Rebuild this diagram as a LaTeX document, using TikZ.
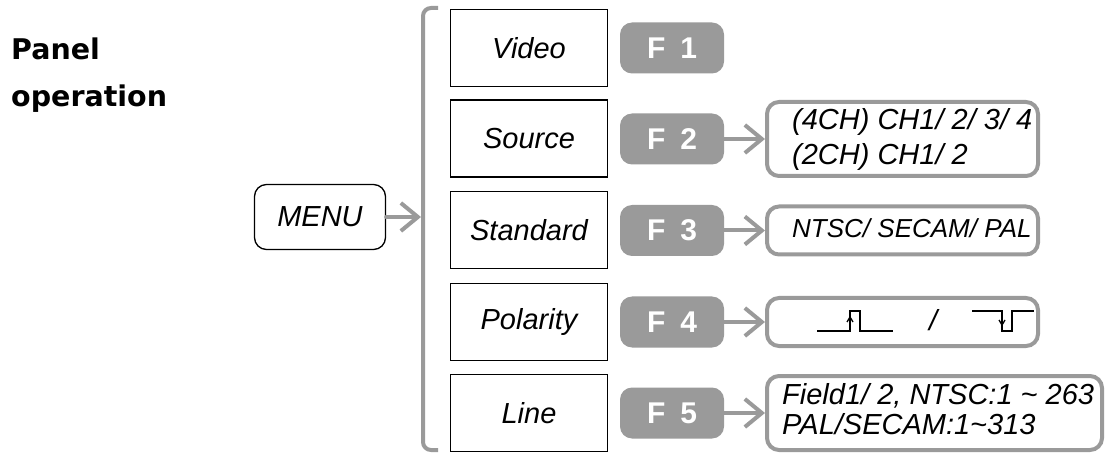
\documentclass[tikz,border=0pt]{standalone}
\usepackage{fontspec}
\setmainfont{Liberation Sans}
\newfontfamily\djv{DejaVu Sans}
\usetikzlibrary{arrows.meta}
\definecolor{gr}{HTML}{9A9A9A}
\begin{document}
\begin{tikzpicture}[x=1pt,y=-1pt,
  every node/.style={inner sep=0pt, font=\fontsize{29}{32}\selectfont\itshape},
  title/.style={anchor=base west, font={\djv\bfseries\fontsize{28.5}{30}\selectfont}},
  optbox/.style={draw=black, line width=1.3pt, minimum width=157pt, minimum height=77pt},
  menubox/.style={draw=black, line width=1.3pt, rounded corners=12pt, minimum width=131pt, minimum height=65pt},
  fkey/.style={fill=gr, rounded corners=12pt, minimum width=104pt, minimum height=51pt, text=white, font=\fontsize{30}{32}\selectfont\bfseries},
  resbox/.style={draw=gr, line width=4pt, rounded corners=12pt, fill=white},
  restext/.style={anchor=base west},
  arr/.style={draw=gr, line width=4pt, line cap=round, -{Straight Barb[length=17pt,width=28pt]}},
  brk/.style={draw=gr, line width=4pt, rounded corners=8pt},
  wave/.style={draw=black, line width=1.3pt}
]
\useasboundingbox (0,0) rectangle (1108,454);

\node[title] (panel) at (11,60) {Panel};
\node[title] (oper) at (11,107) {operation};

\node[menubox] (menu) at (320,217) {MENU};

\draw[brk] (438,8) -| (423,450) -- (438,450);
\coordinate (brkin) at (421,217);
\draw[arr] (menu.east) -- (brkin);

\node[optbox] (video) at (529,48) {Video};
\node[optbox] (source) at (529,138.5) {Source};
\node[optbox] (standard) at (529,230) {Standard};
\node[optbox] (polarity) at (529,322) {Polarity};
\node[optbox] (line) at (529,413) {Line};

\node[fkey] (f1) at (672,48) {F\hspace{15pt}1};
\node[fkey] (f2) at (672,139) {F\hspace{15pt}2};
\node[fkey] (f3) at (672,230.5) {F\hspace{15pt}3};
\node[fkey] (f4) at (672,322) {F\hspace{15pt}4};
\node[fkey] (f5) at (672,413) {F\hspace{15pt}5};

\node[resbox, minimum width=271pt, minimum height=74pt] (r2) at (902.5,139) {};
\node[resbox, minimum width=271pt, minimum height=48pt] (r3) at (902.5,230.5) {};
\node[resbox, minimum width=271pt, minimum height=48pt] (r4) at (902.5,322) {};
\node[resbox, minimum width=335pt, minimum height=74pt] (r5) at (934.5,413) {};

\draw[arr] (f2) -- (r2);
\draw[arr] (f3) -- (r3);
\draw[arr] (f4) -- (r4);
\draw[arr] (f5) -- (r5);

\node[restext] (s1) at (792,130) {(4CH) CH1/ 2/ 3/ 4};
\node[restext] (s2) at (792,165) {(2CH) CH1/ 2};
\node[restext, font=\fontsize{26}{30}\selectfont\itshape] (std) at (792,238) {NTSC/ SECAM/ PAL};
\node[restext] (l1) at (782,404) {Field1/ 2, NTSC:1 \textasciitilde{} 263};
\node[restext] (l2) at (782,434) {PAL/SECAM:1\textasciitilde{}313};

\draw[wave] (817,331) -- (850,331) -- (850,311) -- (860,311) -- (860,331) -- (893,331);
\draw[wave] (847,322) -- (850,317) -- (853,322);
\node[restext] (slash) at (929,330) {/};
\draw[wave] (972,311) -- (1002,311) -- (1002,331) -- (1012,331) -- (1012,311) -- (1034,311);
\draw[wave] (999,320) -- (1002,325) -- (1005,320);
\end{tikzpicture}
\end{document}
